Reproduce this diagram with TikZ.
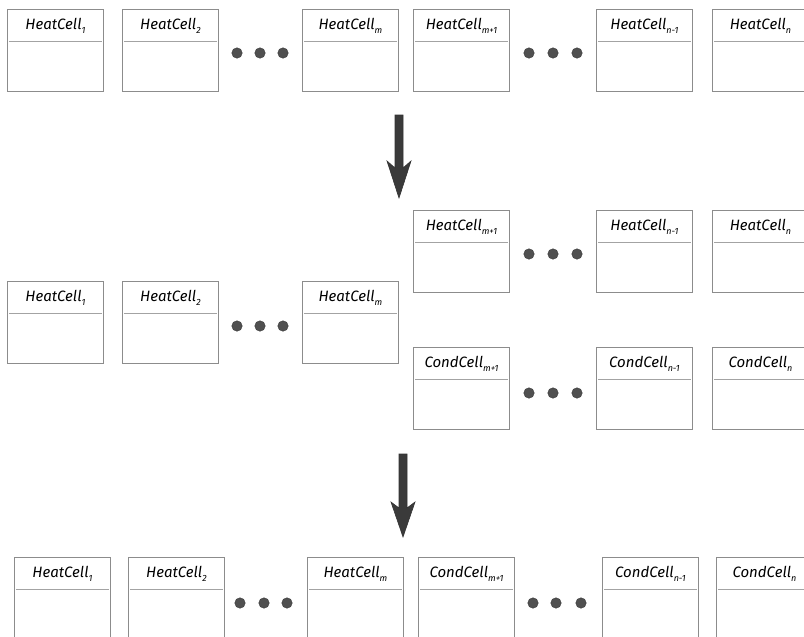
\documentclass[tikz,border=0pt]{standalone}
\usepackage{fontspec}
\setmainfont{Fira Sans}
\usetikzlibrary{calc}
\definecolor{edge}{HTML}{8C8C8C}
\definecolor{dotc}{HTML}{505050}
\definecolor{arrc}{HTML}{3A3A3A}
\tikzset{
  cell/.style={draw=edge, line width=0.9pt, minimum width=96pt, minimum height=82pt, inner sep=0pt, anchor=north west},
  divline/.style={draw=edge!80, line width=0.8pt},
  ttl/.style={font=\fontsize{15}{17}\selectfont\itshape, inner sep=0pt, anchor=center, text=black},
  dot/.style={circle, fill=dotc, draw=dotc!70!black, line width=0.4pt, minimum size=10.5pt, inner sep=0pt},
  bigarrow/.style={fill=arrc, draw=black!80, line width=0.6pt, line join=miter}
}
\newcommand{\sub}[1]{\raisebox{-4pt}{\fontsize{9}{10}\selectfont #1}}
% \cellbox{name}{x}{y}{title}
\newcommand{\cellbox}[4]{%
  \node[cell] (#1) at (#2,#3) {};
  \draw[divline] ($(#1.north west)+(2,32)$) -- ($(#1.north east)+(-2,32)$);
  \node[ttl] (#1t) at ($(#1.north)+(0,17)$) {#4};
}
\begin{document}
\begin{tikzpicture}[x=1pt,y=-1pt]
\useasboundingbox (0,0) rectangle (804,637);
\clip (0,0) rectangle (804,637);
% ---- Row 1
\cellbox{ra1}{7}{9}{HeatCell\sub{1}}
\cellbox{ra2}{122}{9}{HeatCell\sub{2}}
\node[dot] (rad1) at (237,53) {};
\node[dot] (rad2) at (260,53) {};
\node[dot] (rad3) at (283,53) {};
\cellbox{ram}{302}{9}{HeatCell\sub{m}}
\cellbox{ramp}{413}{9}{HeatCell\sub{m+1}}
\node[dot] (rad4) at (529,53) {};
\node[dot] (rad5) at (553,53) {};
\node[dot] (rad6) at (577,53) {};
\cellbox{ran1}{596}{9}{HeatCell\sub{n-1}}
\cellbox{ran}{712}{9}{HeatCell\sub{n}}
% ---- Arrow 1
\coordinate (a1) at (399,115);
\draw[bigarrow] ($(a1)+(-4,0)$) -- ($(a1)+(4,0)$) -- ($(a1)+(4,53)$) -- ($(a1)+(12,46)$)
  -- ($(a1)+(0,83)$) -- ($(a1)+(-12,46)$) -- ($(a1)+(-4,53)$) -- cycle;
% ---- Row 2
\cellbox{rb1}{7}{281}{HeatCell\sub{1}}
\cellbox{rb2}{122}{281}{HeatCell\sub{2}}
\node[dot] (rbd1) at (237,326) {};
\node[dot] (rbd2) at (260,326) {};
\node[dot] (rbd3) at (283,326) {};
\cellbox{rbm}{302}{281}{HeatCell\sub{m}}
\cellbox{rbmp}{413}{210}{HeatCell\sub{m+1}}
\node[dot] (rbd4) at (529,254) {};
\node[dot] (rbd5) at (553,254) {};
\node[dot] (rbd6) at (577,254) {};
\cellbox{rbn1}{596}{210}{HeatCell\sub{n-1}}
\cellbox{rbn}{712}{210}{HeatCell\sub{n}}
\cellbox{rcmp}{413}{347}{CondCell\sub{m+1}}
\node[dot] (rcd1) at (529,393) {};
\node[dot] (rcd2) at (553,393) {};
\node[dot] (rcd3) at (577,393) {};
\cellbox{rcn1}{596}{347}{CondCell\sub{n-1}}
\cellbox{rcn}{712}{347}{CondCell\sub{n}}
% ---- Arrow 2
\coordinate (a2) at (403,454);
\draw[bigarrow] ($(a2)+(-4,0)$) -- ($(a2)+(4,0)$) -- ($(a2)+(4,54)$) -- ($(a2)+(12,48)$)
  -- ($(a2)+(0,83)$) -- ($(a2)+(-12,48)$) -- ($(a2)+(-4,54)$) -- cycle;
% ---- Row 3
\cellbox{rd1}{14}{557}{HeatCell\sub{1}}
\cellbox{rd2}{128}{557}{HeatCell\sub{2}}
\node[dot] (rdd1) at (240,603) {};
\node[dot] (rdd2) at (264,603) {};
\node[dot] (rdd3) at (287,603) {};
\cellbox{rdm}{307}{557}{HeatCell\sub{m}}
\cellbox{rdmp}{418}{557}{CondCell\sub{m+1}}
\node[dot] (rdd4) at (533,603) {};
\node[dot] (rdd5) at (556,603) {};
\node[dot] (rdd6) at (581,603) {};
\cellbox{rdn1}{602}{557}{CondCell\sub{n-1}}
\cellbox{rdn}{716}{557}{CondCell\sub{n}}
\end{tikzpicture}
\end{document}
